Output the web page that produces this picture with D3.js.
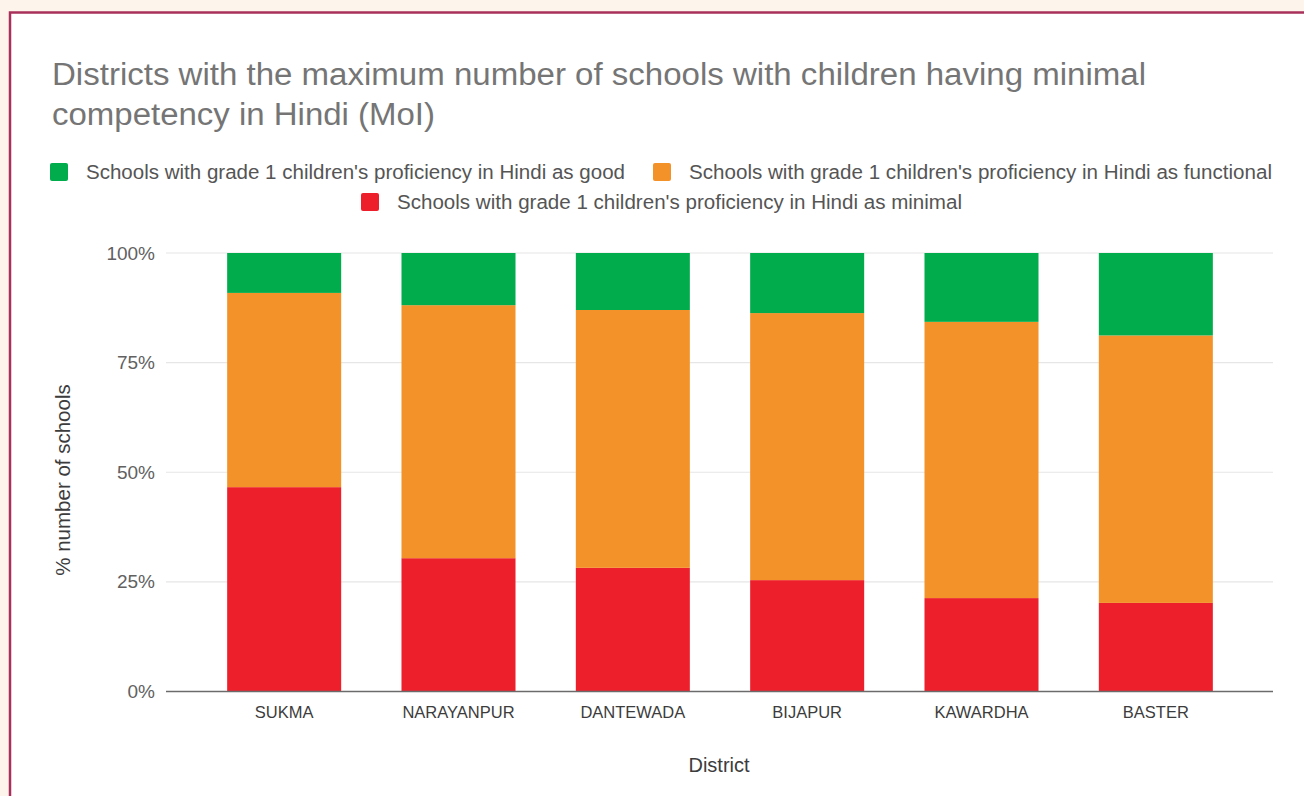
<!DOCTYPE html>
<html>
<head>
<meta charset="utf-8">
<script src="https://cdn.jsdelivr.net/npm/d3@7"></script>
<style>
  html, body { margin: 0; padding: 0; background: #fdf5ec; }
  svg { display: block; font-family: "Liberation Sans", Arial, sans-serif; }
</style>
</head>
<body>
<svg id="chart" width="1304" height="796"></svg>
<script>
// ---- Data ----
const districts = ["SUKMA", "NARAYANPUR", "DANTEWADA", "BIJAPUR", "KAWARDHA", "BASTER"];
const minimalPct    = [46.6, 30.4, 28.2, 25.4, 21.3, 20.2];
const functionalPct = [44.3, 57.7, 58.8, 60.9, 63.0, 61.0];
const goodPct       = [9.1, 11.9, 13.0, 13.7, 15.7, 18.8];
const seriesKeys = ["minimal", "functional", "good"];
const seriesLabels = {
  good: "Schools with grade 1 children's proficiency in Hindi as good",
  functional: "Schools with grade 1 children's proficiency in Hindi as functional",
  minimal: "Schools with grade 1 children's proficiency in Hindi as minimal"
};
const seriesColors = { good: "#00ac4b", functional: "#f4922a", minimal: "#ec1f2b" };
const yTicks = [0, 25, 50, 75, 100];
const titleLines = ["Districts with the maximum number of schools with children having minimal",
                    "competency in Hindi (MoI)"];

const table = districts.map((d, i) => ({
  district: d, minimal: minimalPct[i], functional: functionalPct[i], good: goodPct[i]
}));

const svg = d3.select("#chart");
const FONT = "'Liberation Sans', Arial, sans-serif";

// frame
svg.append("rect").attr("x", 10).attr("y", 12.5).attr("width", 1304).attr("height", 800)
  .attr("fill", "#ffffff").attr("stroke", "#a8305a").attr("stroke-width", 2.5);

// title
const titleWidths = [1094, 383];
svg.append("g").selectAll("text").data(titleLines).join("text")
  .attr("x", 52).attr("y", (d, i) => 85 + i * 40)
  .attr("fill", "#757575").attr("font-size", 31)
  .attr("textLength", (d, i) => titleWidths[i]).attr("lengthAdjust", "spacingAndGlyphs")
  .text(d => d);

// scales
const x = d3.scaleBand().domain(districts).range([197, 1243]).paddingInner(0.346).paddingOuter(0.173);
const y = d3.scaleLinear().domain([0, 100]).range([691.5, 253]);

// gridlines
svg.append("g").selectAll("line").data(yTicks.filter(t => t > 0)).join("line")
  .attr("x1", 166).attr("x2", 1273)
  .attr("y1", d => y(d)).attr("y2", d => y(d))
  .attr("stroke", "#e6e6e6").attr("stroke-width", 1.2);

// y axis labels
const yAxis = d3.axisLeft(y).tickValues(yTicks).tickSize(0).tickPadding(0).tickFormat(d => d + "%");
const yg = svg.append("g").attr("transform", "translate(155,0)").call(yAxis);
yg.select(".domain").remove();
yg.selectAll("text").attr("fill", "#616161").attr("font-size", 19).attr("font-family", FONT);

// bars
const stacked = d3.stack().keys(seriesKeys)(table);
svg.append("g").selectAll("g").data(stacked).join("g")
  .attr("fill", s => seriesColors[s.key])
  .selectAll("rect").data(s => s).join("rect")
  .attr("x", d => x(d.data.district))
  .attr("width", x.bandwidth())
  .attr("y", d => y(d[1]))
  .attr("height", d => y(d[0]) - y(d[1]));

// baseline
svg.append("line").attr("x1", 166).attr("x2", 1273).attr("y1", y(0)).attr("y2", y(0))
  .attr("stroke", "#6b6b6b").attr("stroke-width", 1.5);

// x axis labels
const xAxis = d3.axisBottom(x).tickSize(0).tickPadding(0);
const xg = svg.append("g").attr("transform", "translate(0,706)").call(xAxis);
xg.select(".domain").remove();
xg.selectAll("text").attr("fill", "#3c3c3c").attr("font-size", 16.5).attr("font-family", FONT);

// axis titles
svg.append("text").attr("x", 719).attr("y", 772).attr("text-anchor", "middle")
  .attr("fill", "#3c3c3c").attr("font-size", 20).text("District");
svg.append("text").attr("transform", "translate(70,480) rotate(-90)").attr("text-anchor", "middle")
  .attr("fill", "#3c3c3c").attr("font-size", 20.5).text("% number of schools");

// legend
const legendItems = [
  { key: "good", x: 50, y: 172, w: 539 },
  { key: "functional", x: 653, y: 172, w: 583 },
  { key: "minimal", x: 361, y: 202, w: 565 }
];
const lg = svg.append("g").selectAll("g").data(legendItems).join("g")
  .attr("transform", d => `translate(${d.x},${d.y})`);
lg.append("rect").attr("x", 0).attr("y", -9).attr("width", 18).attr("height", 18).attr("rx", 2)
  .attr("fill", d => seriesColors[d.key]);
lg.append("text").attr("x", 36).attr("y", 7).attr("font-size", 20).attr("fill", "#555555")
  .attr("textLength", d => d.w).attr("lengthAdjust", "spacingAndGlyphs")
  .text(d => seriesLabels[d.key]);
</script>
</body>
</html>
